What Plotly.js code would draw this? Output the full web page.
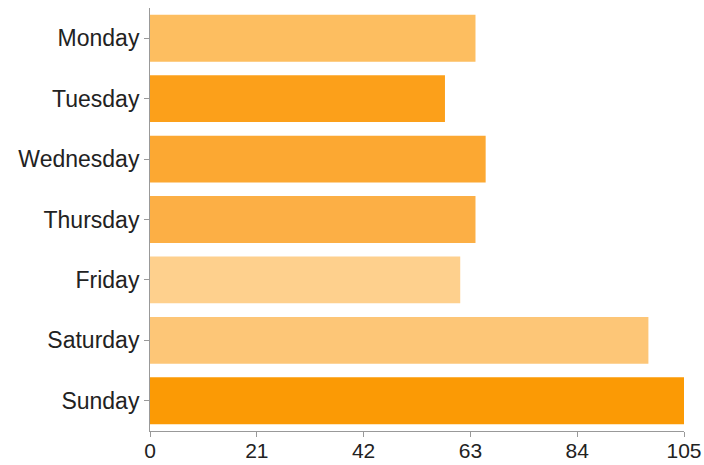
<!DOCTYPE html>
<html>
<head>
<meta charset="utf-8">
<script src="https://cdn.plot.ly/plotly-3.0.1.min.js"></script>
<style>html,body{margin:0;padding:0;background:#fff;}#chart{width:704px;height:465px;}</style>
</head>
<body>
<div id="chart"></div>
<script>
const days = ["Monday", "Tuesday", "Wednesday", "Thursday", "Friday", "Saturday", "Sunday"];
const values = [64, 58, 66, 64, 61, 98, 105];
const barColors = ["#fdbe60", "#fca01a", "#fca832", "#fcaf45", "#fed08d", "#fdc677", "#fb9a05"];
const xTicks = [0, 21, 42, 63, 84, 105];

Plotly.newPlot("chart", [{
  type: "bar",
  orientation: "h",
  y: days,
  x: values,
  marker: { color: barColors },
  hoverinfo: "x+y"
}], {
  width: 704,
  height: 465,
  margin: { l: 150, r: 20, t: 8, b: 34 },
  paper_bgcolor: "#fff",
  plot_bgcolor: "#fff",
  bargap: 0.225,
  showlegend: false,
  font: { family: "Liberation Sans, Arial, sans-serif", size: 21, color: "#222" },
  xaxis: {
    range: [0, 105],
    tickvals: xTicks,
    ticktext: xTicks.map(String),
    tickfont: { size: 21, color: "#222" },
    showgrid: false,
    zeroline: false,
    showline: true,
    linecolor: "#999",
    linewidth: 1,
    ticks: "outside",
    ticklen: 5,
    tickcolor: "#999",
    ticklabelstandoff: -4,
    fixedrange: true
  },
  yaxis: {
    autorange: "reversed",
    tickfont: { size: 23, color: "#222" },
    showgrid: false,
    zeroline: false,
    showline: true,
    linecolor: "#999",
    linewidth: 1,
    ticks: "outside",
    ticklen: 5,
    tickcolor: "#999",
    ticklabelstandoff: 0,
    fixedrange: true
  }
}, { displayModeBar: false, staticPlot: true });
</script>
</body>
</html>
